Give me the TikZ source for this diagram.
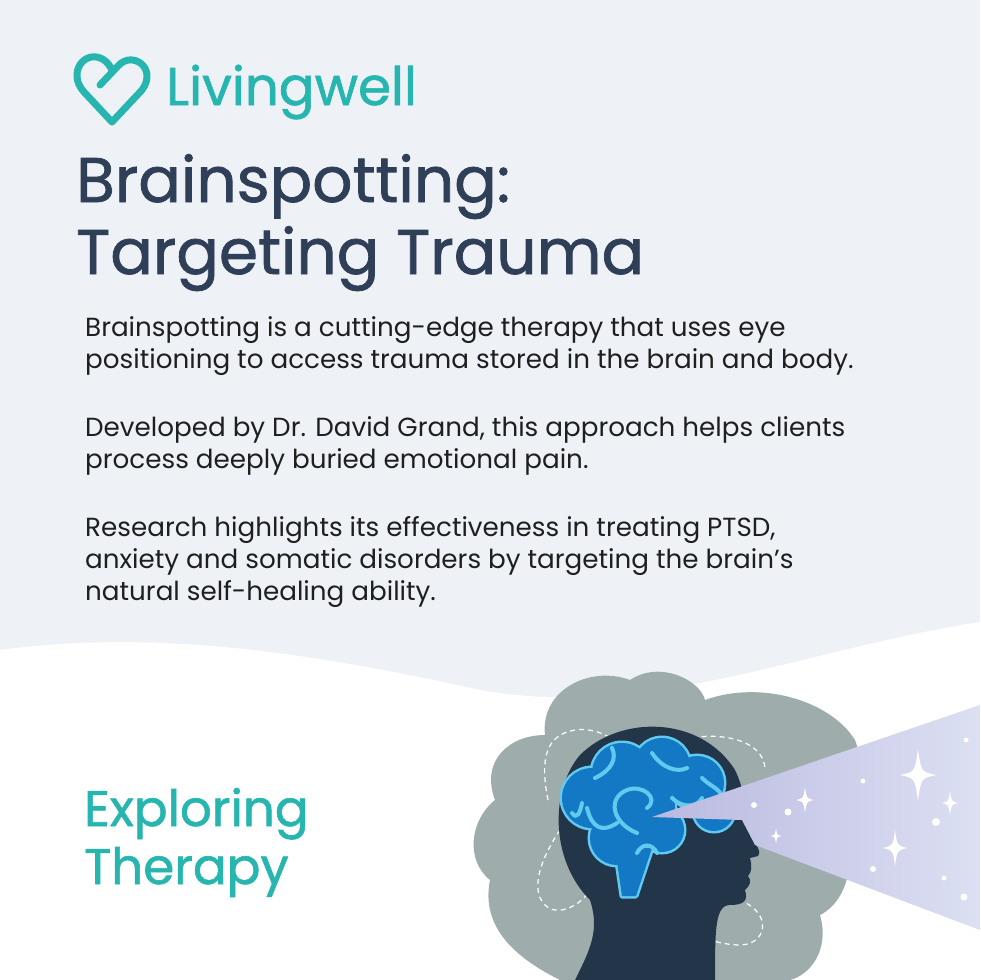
\documentclass[tikz,border=0pt]{standalone}
\usepackage{fontspec}
\setmainfont{Poppins}
\newfontfamily\medfont{Poppins}[FakeBold=1.2]
\definecolor{bgc}{HTML}{EEF2F7}
\definecolor{teal}{HTML}{27B6AF}
\definecolor{navy}{HTML}{2F3F58}
\definecolor{hair}{HTML}{9EACAC}
\definecolor{head}{HTML}{233548}
\definecolor{brain}{HTML}{1479C4}
\definecolor{brainl}{HTML}{62C9EF}
\definecolor{beam}{HTML}{DCE0F2}
\definecolor{beamd}{HTML}{B9B9E0}
\tikzset{
  body/.style={anchor=base west,font=\fontsize{26.2}{32}\selectfont,text=black!88,inner sep=0},
  title/.style={anchor=base west,font=\medfont\fontsize{63}{72}\selectfont,text=navy,inner sep=0},
  sub/.style={anchor=base west,font=\medfont\fontsize{50}{60}\selectfont,text=teal,inner sep=0},
  star/.style={fill=white,draw=none},
}
\begin{document}
\begin{tikzpicture}[x=1pt,y=-1pt]
\useasboundingbox (0,0) rectangle (980,980);
\fill[bgc] (0,0) rectangle (980,980);
% white wave
\fill[white] (0,650) .. controls (150,630) and (300,650) .. (480,690)
  .. controls (650,720) and (800,650) .. (980,622) -- (980,980) -- (0,980) -- cycle;
% logo
\draw[teal,line width=7,line cap=round,line join=round]
  (112,122) -- (84,92) .. controls (66,72) and (86,48) .. (104,60)
  .. controls (108,63) and (110,66) .. (112,70)
  (100,85) -- (118,66) .. controls (132,50) and (158,68) .. (142,90) -- (112,122);
\node[anchor=base west,font=\medfont\fontsize{53}{60}\selectfont,text=teal,inner sep=0] (logo) at (166,105) {Livingwell};
% titles
\node[title] (t1) at (76,202) {Brainspotting:};
\node[title] (t2) at (76,274) {Targeting Trauma};
\node[body] (p1) at (85,336) {Brainspotting is a cutting-edge therapy that uses eye};
\node[body] (p2) at (85,368) {positioning to access trauma stored in the brain and body.};
\node[body] (p3) at (85,436) {Developed by Dr. David Grand, this approach helps clients};
\node[body] (p4) at (85,468) {process deeply buried emotional pain.};
\node[body] (p5) at (85,536) {Research highlights its effectiveness in treating PTSD,};
\node[body] (p6) at (85,568) {anxiety and somatic disorders by targeting the brain’s};
\node[body] (p7) at (85,600) {natural self-healing ability.};
\node[sub] (s1) at (84,826) {Exploring};
\node[sub] (s2) at (84,884) {Therapy};
% hair cloud
\fill[hair] (560,980) .. controls (520,960) and (480,930) .. (490,880)
  .. controls (465,860) and (470,820) .. (495,800)
  .. controls (480,760) and (510,735) .. (545,735)
  .. controls (540,690) and (590,665) .. (630,680)
  .. controls (660,660) and (700,680) .. (705,700)
  .. controls (760,680) and (830,700) .. (855,740)
  .. controls (870,780) and (850,810) .. (835,820)
  .. controls (860,850) and (850,900) .. (820,915)
  .. controls (830,950) and (810,975) .. (790,980) -- cycle;
% dashed orbits
\begin{scope}[white,line width=1.2,dash pattern=on 5pt off 4pt]
\draw (548,800) .. controls (540,760) and (545,735) .. (575,730) .. controls (610,725) and (640,760) .. (650,780)
  .. controls (680,840) and (700,880) .. (740,900) .. controls (775,915) and (765,945) .. (740,945)
  .. controls (700,945) and (640,910) .. (600,880);
\draw (560,830) .. controls (540,860) and (530,890) .. (545,905) .. controls (560,920) and (590,900) .. (595,880);
\draw (600,820) -- (680,740) .. controls (720,730) and (765,740) .. (765,770);
\end{scope}
% head
\fill[head] (575,980) .. controls (590,950) and (600,930) .. (590,900)
  .. controls (550,860) and (550,790) .. (580,755)
  .. controls (620,715) and (700,715) .. (735,770)
  .. controls (745,790) and (748,820) .. (750,835)
  .. controls (755,845) and (762,850) .. (758,856)
  -- (750,858) .. controls (752,866) and (752,872) .. (748,876)
  .. controls (752,880) and (750,886) .. (745,890)
  .. controls (748,900) and (745,905) .. (730,905)
  .. controls (715,905) and (715,930) .. (715,980) -- cycle;
% brain
\begin{scope}[xshift=12pt,yshift=-8pt]
\foreach \p/\r in {{(580,790)}/30,{(610,765)}/30,{(650,758)}/28,{(685,775)}/27,{(702,803)}/20,{(625,800)}/38,{(605,830)}/27,{(650,822)}/22}
  \draw[brainl,line width=5,fill=brain] \p circle (\r);
\draw[brainl,line width=5,fill=brain,line join=round] (603,840) -- (610,888) -- (624,888) -- (640,840) -- cycle;
\foreach \p/\r in {{(580,790)}/30,{(610,765)}/30,{(650,758)}/28,{(685,775)}/27,{(702,803)}/20,{(625,800)}/38,{(605,830)}/27,{(650,822)}/22}
  \fill[brain] \p circle (\r);
\fill[brain] (603,840) -- (610,888) -- (624,888) -- (640,840) -- cycle;
\begin{scope}[brainl,line width=4,line cap=round]
\draw (625,825) .. controls (600,815) and (595,790) .. (615,782) .. controls (630,776) and (648,790) .. (635,800);
\draw (583,770) .. controls (600,762) and (605,750) .. (600,740);
\draw (640,745) .. controls (650,760) and (665,765) .. (675,760);
\draw (575,800) .. controls (580,820) and (590,825) .. (605,815);
\draw (660,790) .. controls (670,800) and (685,800) .. (690,790);
\draw (625,845) .. controls (630,835) and (640,835) .. (645,845);
\draw (690,770) .. controls (700,780) and (710,780) .. (712,795);
\draw (560,805) .. controls (565,812) and (568,805) .. (570,795);
\end{scope}
\end{scope}
% beam
\shade[left color=beamd,right color=beam] (652,817) -- (980,705) -- (980,930) -- (755,845) -- (742,820) -- cycle;
% stars
\foreach \x/\y/\s in {918/775/26, 805/800/13, 895/848/18, 776/836/8, 950/803/12}
  \fill[star] (\x,\y-\s) .. controls (\x+\s*0.12,\y-\s*0.12) .. (\x+\s*0.7,\y) .. controls (\x+\s*0.12,\y+\s*0.12) .. (\x,\y+\s)
    .. controls (\x-\s*0.12,\y+\s*0.12) .. (\x-\s*0.7,\y) .. controls (\x-\s*0.12,\y-\s*0.12) .. cycle;
\foreach \x/\y/\r in {754/805/3, 788/812/3.5, 863/781/2.5, 936/822/4, 873/869/3, 944/878/2.5, 964/897/3.5, 966/740/2.5}
  \fill[white] (\x,\y) circle (\r);
\end{tikzpicture}
\end{document}
